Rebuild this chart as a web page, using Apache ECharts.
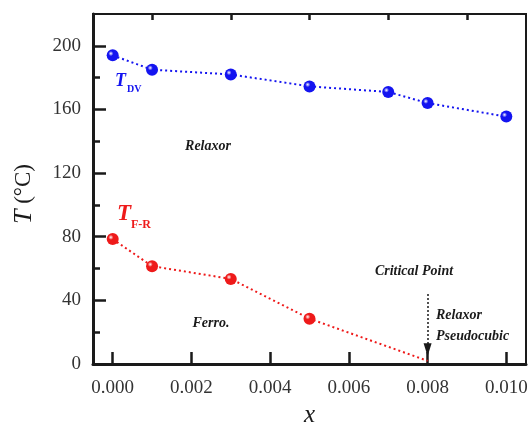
<!DOCTYPE html>
<html>
<head>
<meta charset="utf-8">
<script src="https://cdn.jsdelivr.net/npm/echarts@6/dist/echarts.min.js"></script>
<style>
  html, body { margin: 0; padding: 0; background: #fff; }
  #chart { width: 531px; height: 422px; }
</style>
</head>
<body>
<div id="chart"></div>
<script>
// T-x phase diagram (T_DV and T_F-R)
var dvX = [0, 0.001, 0.003, 0.005, 0.007, 0.008, 0.010];
var dvT = [194, 185, 182, 174.5, 171, 164, 155.5];
var frX = [0, 0.001, 0.003, 0.005, 0.008];
var frT = [78.5, 61.5, 53.5, 28.5, 2];
var xMajorTicks = [0, 0.002, 0.004, 0.006, 0.008, 0.010];
var xMinorTicks = [0.001, 0.003, 0.005, 0.007, 0.009];
var yMajorTicks = [0, 40, 80, 120, 160, 200];
var yMinorTicks = [20, 60, 100, 140, 180];
var criticalX = 0.008;
var arrowT = [44, 9];

(function () {
  var serif = '"Liberation Serif", "DejaVu Serif", serif';
  var ink = '#1a1a1a';
  var blue = '#1414f0';
  var red = '#ee1a1a';

  function ball(c) {
    return {
      type: 'radial', x: 0.35, y: 0.35, r: 0.7,
      colorStops: [{ offset: 0, color: '#ffffff' }, { offset: 0.3, color: c }, { offset: 1, color: c }]
    };
  }
  function pairs(xs, ys) {
    return xs.map(function (x, i) { return [x, ys[i]]; });
  }

  // the last F-R point is only where the line ends, no marker there
  var frData = pairs(frX, frT);
  frData[frData.length - 1] = { value: frData[frData.length - 1], symbol: 'none' };

  var chart = echarts.init(document.getElementById('chart'), null, { renderer: 'canvas' });
  var xBase = { type: 'value', min: -0.0005, max: 0.0105, splitLine: { show: false } };
  var yBase = { type: 'value', min: 0, max: 220, splitLine: { show: false } };

  chart.setOption({
    animation: false,
    backgroundColor: '#fff',
    grid: { left: 93, top: 14, right: 5, bottom: 58, outerBoundsMode: 'none', show: true, borderColor: ink, borderWidth: 2 },
    xAxis: [
      Object.assign({}, xBase, {
        name: 'x', nameLocation: 'middle', nameGap: 33,
        nameTextStyle: { fontFamily: serif, fontStyle: 'italic', fontSize: 25, color: ink },
        axisLine: { onZero: false, lineStyle: { color: ink, width: 3 } },
        axisTick: { inside: true, length: 12, lineStyle: { color: ink, width: 2.5 }, customValues: xMajorTicks },
        axisLabel: { fontFamily: serif, fontSize: 19, color: '#333', margin: 15, customValues: xMajorTicks,
          formatter: function (v) { return v.toFixed(3); } }
      }),
      Object.assign({}, xBase, {
        axisLine: { show: false, onZero: false },
        axisTick: { inside: true, length: 6, lineStyle: { color: ink, width: 2.5 }, customValues: xMinorTicks },
        axisLabel: { show: false }
      })
    ],
    yAxis: [
      Object.assign({}, yBase, {
        name: '{i|T} (°C)', nameLocation: 'middle', nameGap: 56, nameRotate: 90,
        nameTextStyle: { fontFamily: serif, fontSize: 23, color: ink, padding: [0, 10, 0, 0],
          rich: { i: { fontFamily: serif, fontStyle: 'italic', fontSize: 26, color: ink } } },
        axisLine: { onZero: false, lineStyle: { color: ink, width: 3 } },
        axisTick: { inside: true, length: 13, lineStyle: { color: ink, width: 2.5 }, customValues: yMajorTicks },
        axisLabel: { fontFamily: serif, fontSize: 19, color: '#333', margin: 12, customValues: yMajorTicks }
      }),
      Object.assign({}, yBase, {
        position: 'left',
        axisLine: { show: false, onZero: false },
        axisTick: { inside: true, length: 7, lineStyle: { color: ink, width: 2.5 }, customValues: yMinorTicks },
        axisLabel: { show: false }
      })
    ],
    series: [
      {
        name: 'T_DV', type: 'line', data: pairs(dvX, dvT),
        symbol: 'circle', symbolSize: 12,
        itemStyle: { color: ball(blue) },
        lineStyle: { color: blue, width: 2, type: [2, 3] }
      },
      {
        name: 'T_F-R', type: 'line', data: frData,
        symbol: 'circle', symbolSize: 12,
        itemStyle: { color: ball(red) },
        lineStyle: { color: red, width: 2, type: [2, 3] },
        markLine: {
          silent: true, symbol: ['none', 'triangle'], symbolSize: [8, 13],
          label: { show: false },
          lineStyle: { color: ink, width: 1.5, type: [2, 2] },
          data: [[{ coord: [criticalX, arrowT[0]] }, { coord: [criticalX, arrowT[1]] }]]
        }
      }
    ],
    graphic: [
      { type: 'text', left: 115, top: 72, style: { text: 'T', fontFamily: serif, fontStyle: 'italic', fontWeight: 'bold', fontSize: 18, fill: blue } },
      { type: 'text', left: 127, top: 84, style: { text: 'DV', fontFamily: serif, fontWeight: 'bold', fontSize: 10, fill: blue } },
      { type: 'text', left: 117, top: 203, style: { text: 'T', fontFamily: serif, fontStyle: 'italic', fontWeight: 'bold', fontSize: 23, fill: red } },
      { type: 'text', left: 131, top: 219, style: { text: 'F-R', fontFamily: serif, fontWeight: 'bold', fontSize: 12, fill: red } },
      { type: 'text', x: 208, y: 146, style: { text: 'Relaxor', align: 'center', verticalAlign: 'middle', fontFamily: serif, fontStyle: 'italic', fontWeight: 'bold', fontSize: 14, fill: ink } },
      { type: 'text', x: 211, y: 323, style: { text: 'Ferro.', align: 'center', verticalAlign: 'middle', fontFamily: serif, fontStyle: 'italic', fontWeight: 'bold', fontSize: 14, fill: ink } },
      { type: 'text', x: 414, y: 271, style: { text: 'Critical Point', align: 'center', verticalAlign: 'middle', fontFamily: serif, fontStyle: 'italic', fontWeight: 'bold', fontSize: 14, fill: ink } },
      { type: 'text', x: 436, y: 315, style: { text: 'Relaxor', align: 'left', verticalAlign: 'middle', fontFamily: serif, fontStyle: 'italic', fontWeight: 'bold', fontSize: 14, fill: ink } },
      { type: 'text', x: 436, y: 336, style: { text: 'Pseudocubic', align: 'left', verticalAlign: 'middle', fontFamily: serif, fontStyle: 'italic', fontWeight: 'bold', fontSize: 14, fill: ink } }
    ]
  });
  window.addEventListener('resize', function () { chart.resize(); });
})();
</script>
</body>
</html>
